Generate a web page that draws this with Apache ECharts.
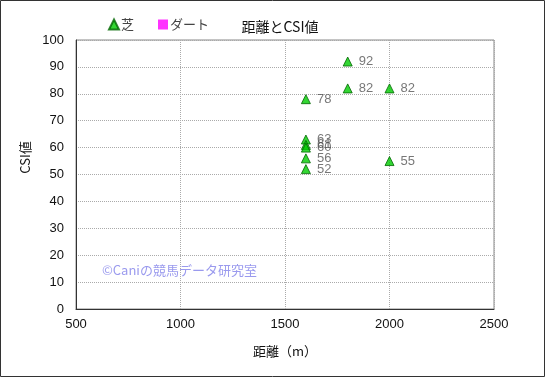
<!DOCTYPE html>
<html><head><meta charset="utf-8">
<script src="https://cdn.jsdelivr.net/npm/echarts@6/dist/echarts.min.js"></script>
<style>html,body{margin:0;padding:0;background:#fff}#c{width:545px;height:377px}</style>
</head><body><div id="c"></div>
<script>
const turfDist = [1800, 1800, 2000, 1600, 1600, 1600, 1600, 1600, 1600, 2000];
const turfCSI  = [92, 82, 82, 78, 63, 61, 60, 56, 52, 55];
const dirtDist = [];
const dirtCSI  = [];
const xTicks = [500, 1000, 1500, 2000, 2500];
const yTicks = [0, 10, 20, 30, 40, 50, 60, 70, 80, 90, 100];

const font = '"Noto Sans CJK JP", sans-serif';
const chart = echarts.init(document.getElementById('c'));
chart.setOption({
  animation: false,
  title: { text: '距離とCSI値', left: 275, top: 15, textAlign: 'center',
    textStyle: { fontSize: 14, fontWeight: 'normal', color: '#111', fontFamily: font } },
  legend: { left: 103, top: 13, itemGap: 24, itemWidth: 10, itemHeight: 10,
    textStyle: { fontSize: 13, color: '#444', fontFamily: font, padding: [0,0,0,-3] },
    data: [ { name: '芝', icon: 'triangle' }, { name: 'ダート', icon: 'rect' } ] },
  grid: { left: 76, right: 51, top: 40, bottom: 68, show: true, borderColor: '#888', borderWidth: 1 },
  xAxis: { type: 'value', min: xTicks[0], max: xTicks[xTicks.length-1], interval: 500,
    name: '距離（m）', nameLocation: 'middle', nameGap: 36,
    nameTextStyle: { fontSize: 13, color: '#111', fontFamily: font },
    axisLine: { show: true, lineStyle: { color: '#333' } }, axisTick: { show: false },
    axisLabel: { fontSize: 13, color: '#111', margin: 9, fontFamily: 'sans-serif', formatter: v => String(v) },
    splitLine: { show: true, lineStyle: { type: 'dotted', color: '#aaa' } } },
  yAxis: { type: 'value', min: yTicks[0], max: yTicks[yTicks.length-1], interval: 10,
    name: 'CSI値', nameLocation: 'middle', nameGap: 36,
    nameTextStyle: { fontSize: 13, color: '#111', fontFamily: font, padding: [0,0,0,34] },
    axisLine: { show: true, lineStyle: { color: '#333' } }, axisTick: { show: false },
    axisLabel: { fontSize: 13, color: '#111', margin: 12, fontFamily: 'sans-serif' },
    splitLine: { show: true, lineStyle: { type: 'dotted', color: '#aaa' } } },
  series: [
    { name: '芝', type: 'scatter', symbol: 'triangle', symbolSize: 9,
      itemStyle: { color: '#00cc00', borderColor: '#006600', borderWidth: 1 },
      label: { show: true, position: 'right', distance: 6, fontSize: 13, color: '#555',
        fontFamily: 'sans-serif', formatter: p => p.value[1] },
      data: turfDist.map((d, i) => [d, turfCSI[i]]) },
    { name: 'ダート', type: 'scatter', symbol: 'rect', symbolSize: 9,
      itemStyle: { color: '#ff00ff' },
      data: dirtDist.map((d, i) => [d, dirtCSI[i]]) }
  ],
  graphic: [
    { type: 'text', left: 102, top: 264, style: { text: '©Caniの競馬データ研究室', fontSize: 13,
      fill: '#9a9aee', fontFamily: font } },
    { type: 'rect', shape: { x: 0.5, y: 0.5, width: 544, height: 376 },
      style: { fill: 'none', stroke: '#333', lineWidth: 1 }, silent: true }
  ]
});
</script></body></html>
